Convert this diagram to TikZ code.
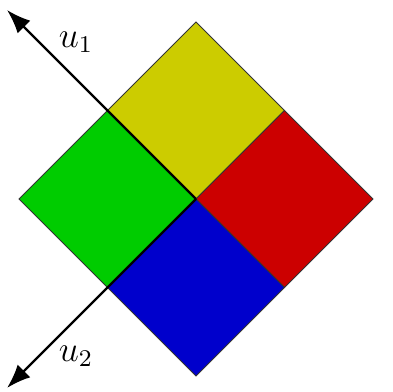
\documentclass[tikz,border=0pt]{standalone}
\usetikzlibrary{arrows.meta}
\definecolor{cyel}{RGB}{204,204,0}
\definecolor{cred}{RGB}{204,0,0}
\definecolor{cblue}{RGB}{0,0,204}
\definecolor{cgreen}{RGB}{0,204,0}
\tikzset{
  tile/.style={draw=black!80, line width=0.3pt},
  axis/.style={line width=0.8pt, -{Latex[length=8pt,width=6pt]}},
  lab/.style={font=\large, inner sep=0pt}
}
\begin{document}
\begin{tikzpicture}[x=0.3333pt,y=-0.3333pt]
\useasboundingbox (0,0) rectangle (393,392);
\coordinate (C) at (196,199);
\coordinate (T) at (196,22);
\coordinate (R) at (373,199);
\coordinate (B) at (196,376);
\coordinate (L) at (19,199);
\coordinate (TL) at (107.5,110.5);
\coordinate (TR) at (284.5,110.5);
\coordinate (BR) at (284.5,287.5);
\coordinate (BL) at (107.5,287.5);
\coordinate (U1) at (7,10);
\coordinate (U2) at (7,388);
\filldraw[tile, fill=cyel] (T) -- (TR) -- (C) -- (TL) -- cycle;
\filldraw[tile, fill=cred] (TR) -- (R) -- (BR) -- (C) -- cycle;
\filldraw[tile, fill=cblue] (C) -- (BR) -- (B) -- (BL) -- cycle;
\filldraw[tile, fill=cgreen] (TL) -- (C) -- (BL) -- (L) -- cycle;
\draw[axis] (C) -- (U1);
\draw[axis] (C) -- (U2);
\node[lab] (l1) at (76,42) {$u_1$};
\node[lab] (l2) at (76,356) {$u_2$};
\end{tikzpicture}
\end{document}
